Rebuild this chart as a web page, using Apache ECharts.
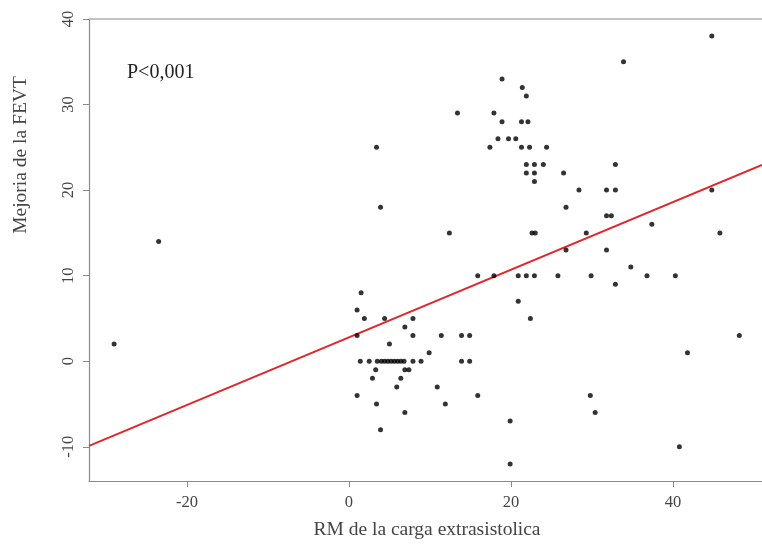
<!DOCTYPE html>
<html>
<head>
<meta charset="utf-8">
<script src="https://cdn.jsdelivr.net/npm/echarts@6/dist/echarts.min.js"></script>
<style>html,body{margin:0;padding:0;background:#fff}#c{width:762px;height:545px}</style>
</head>
<body>
<div id="c"></div>
<script>
// Data
var cargaX = [
  -29.0, -23.5,
  1.0, 2.9, 3.4, 3.9, 3.3, 5.9, 6.4, 6.9, 6.9, 7.4,
  10.9, 11.9, 15.9, 19.9, 19.9, 29.8, 30.4, 40.8,
  1.5, 1.0, 1.9, 4.4, 7.9, 1.0, 6.9, 7.9, 11.4, 13.9, 14.9, 5.0, 9.9,
  1.4, 2.5, 3.5, 4.0, 4.4, 4.8, 5.2, 5.6, 6.0, 6.4, 6.8, 7.9, 8.9, 13.9, 14.9,
  3.4, 3.9, 12.4, 13.4,
  15.9, 17.9, 20.9, 21.9, 22.9, 25.8, 29.9, 36.8, 40.3,
  20.9, 22.4, 41.8, 48.2,
  18.9, 21.4, 21.9, 17.9, 18.9, 21.3, 22.1, 18.4, 19.7, 20.6,
  17.4, 21.3, 22.3, 24.4, 21.9, 22.9, 24.0, 21.9, 22.9, 22.9, 26.5,
  28.4, 31.8, 32.9, 32.9, 26.8, 31.8, 32.4, 37.4, 22.6, 23.0, 29.3, 45.8,
  26.8, 31.8, 34.8, 32.9, 33.9, 44.8, 44.8
];
var mejoriaY = [
  2, 14,
  -4, -2, -5, -8, -1, -3, -2, -6, -1, -1,
  -3, -5, -4, -7, -12, -4, -6, -10,
  8, 6, 5, 5, 5, 3, 4, 3, 3, 3, 3, 2, 1,
  0, 0, 0, 0, 0, 0, 0, 0, 0, 0, 0, 0, 0, 0, 0,
  25, 18, 15, 29,
  10, 10, 10, 10, 10, 10, 10, 10, 10,
  7, 5, 1, 3,
  33, 32, 31, 29, 28, 28, 28, 26, 26, 26,
  25, 25, 25, 25, 23, 23, 23, 22, 22, 21, 22,
  20, 20, 20, 23, 18, 17, 17, 16, 15, 15, 15, 15,
  13, 13, 11, 9, 35, 38, 20
];
var fitLineX = [-32.1, 51.0];
var fitLineY = [-9.9, 22.95];
var xTickValues = [-20, 0, 20, 40];
var yTickValues = [-10, 0, 10, 20, 30, 40];
var xTitle = 'RM de la carga extrasistolica';
var yTitle = 'Mejoria de la FEVT';
var pText = 'P<0,001';

var points = cargaX.map(function (x, i) { return [x, mejoriaY[i]]; });
var fitPts = fitLineX.map(function (x, i) { return [x, fitLineY[i]]; });

var FONT = 'Liberation Serif';
var XMIN = -32.1, XMAX = 51.0;
var chart = echarts.init(document.getElementById('c'), null, {renderer: 'canvas'});
chart.setOption({
  backgroundColor: '#ffffff',
  animation: false,
  grid: {left: 89, top: 19, width: 673, height: 462, show: false},
  xAxis: [{
    type: 'value', min: XMIN, max: XMAX, position: 'bottom',
    axisLine: {show: true, onZero: false, lineStyle: {color: '#8a8a8a', width: 1.2}},
    axisTick: {show: true, length: 6, customValues: xTickValues, lineStyle: {color: '#8a8a8a'}},
    axisLabel: {customValues: xTickValues, margin: 13, fontFamily: FONT, fontSize: 16.5, color: '#444'},
    splitLine: {show: false}
  }, {
    type: 'value', min: XMIN, max: XMAX, position: 'top',
    axisLine: {show: true, onZero: false, lineStyle: {color: '#b0b0b0', width: 1.5}},
    axisTick: {show: false}, axisLabel: {show: false}, splitLine: {show: false}
  }],
  yAxis: {
    type: 'value', min: -14, max: 40,
    axisLine: {show: true, onZero: false, lineStyle: {color: '#8a8a8a', width: 1.2}},
    axisTick: {show: true, length: 6, customValues: yTickValues, lineStyle: {color: '#8a8a8a'}},
    axisLabel: {customValues: yTickValues, rotate: 90, margin: 12, fontFamily: FONT, fontSize: 16.5, color: '#444'},
    splitLine: {show: false}
  },
  graphic: [
    {type: 'text', left: 127, top: 63, style: {text: pText, font: '20px "Liberation Serif"', fill: '#222'}},
    {type: 'text', x: 427, y: 530, style: {text: xTitle, font: '19.5px "Liberation Serif"', fill: '#444', align: 'center', verticalAlign: 'middle'}},
    {type: 'text', x: 21, y: 155, rotation: Math.PI / 2, style: {text: yTitle, font: '19.5px "Liberation Serif"', fill: '#444', align: 'center', verticalAlign: 'middle'}}
  ],
  series: [
    {
      type: 'scatter', data: points, symbol: 'circle', symbolSize: 5,
      itemStyle: {color: '#000'}, z: 3
    },
    {
      type: 'line', data: fitPts, symbol: 'none', showSymbol: false,
      lineStyle: {color: '#e0262b', width: 2}, z: 2
    }
  ]
});
</script>
</body>
</html>
